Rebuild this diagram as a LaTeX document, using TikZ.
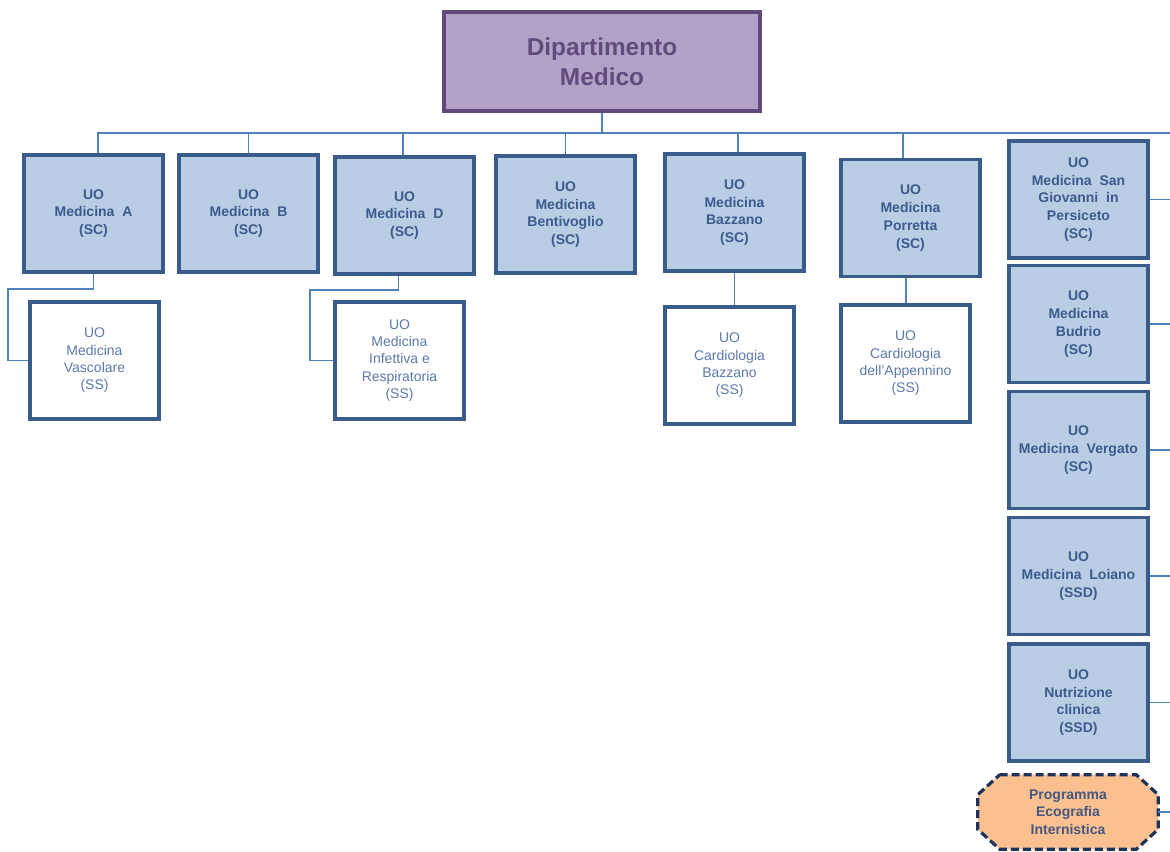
\documentclass[tikz,border=0pt]{standalone}
\usepackage{fontspec}
\setmainfont{Liberation Sans}
\usetikzlibrary{positioning, calc, backgrounds}
\definecolor{boxblue}{RGB}{185, 205, 229}
\definecolor{edgeblue}{RGB}{58, 92, 138}
\definecolor{textblue}{RGB}{60, 90, 140}
\definecolor{softblue}{RGB}{92, 122, 170}
\definecolor{wireblue}{RGB}{79, 129, 189}
\definecolor{deptfill}{RGB}{179, 162, 199}
\definecolor{deptedge}{RGB}{96, 74, 123}
\definecolor{depttext}{RGB}{95, 75, 125}
\definecolor{progfill}{RGB}{250, 192, 144}
\definecolor{progedge}{RGB}{31, 50, 90}
\definecolor{progtext}{RGB}{70, 88, 128}

\tikzset{
  dept/.style={draw=deptedge, fill=deptfill, line width=2.5pt, minimum width=237pt, minimum height=74.25pt,
    align=center, text=depttext, font=\bfseries\fontsize{18.3}{22.5}\selectfont},
  unitbox/.style={draw=edgeblue, fill=boxblue, line width=2.6pt, minimum width=104.25pt, minimum height=87.75pt,
    align=center, text=textblue, font=\bfseries\fontsize{10.5}{13.3}\selectfont},
  subbox/.style={draw=edgeblue, fill=white, line width=2.6pt, minimum width=96.75pt, minimum height=87.75pt,
    align=center, text=softblue, font=\fontsize{10.5}{13}\selectfont},
  progbox/.style={minimum width=135pt, minimum height=55.5pt, align=center, text=progtext,
    font=\bfseries\fontsize{10.5}{13.3}\selectfont},
  wire/.style={draw=wireblue, line width=1.4pt}
}

\begin{document}
\begin{tikzpicture}[x=0.75pt, y=-0.75pt]
  \useasboundingbox (0,0) rectangle (1170,852);

  \node[dept] (dept) at (602,61.5) {Dipartimento\\Medico};

  % first row of units
  \node[unitbox] (ua)    at (93.5,213.5) {UO\\Medicina\ \ A\\(SC)};
  \node[unitbox] (ub)    at (248.5,213.5) {UO\\Medicina\ \ B\\(SC)};
  \node[unitbox] (ud)    at (404.5,215.5) {UO\\Medicina\ \ D\\(SC)};
  \node[unitbox] (ubent) at (565.5,214.5) {UO\\Medicina\\Bentivoglio\\(SC)};
  \node[unitbox] (ubaz)  at (734.5,212.5) {UO\\Medicina\\Bazzano\\(SC)};
  \node[unitbox] (upor)  at (910.5,218) {UO\\Medicina\\Porretta\\(SC)};

  % right column
  \node[unitbox] (usgp) at (1078.5,199.5) {UO\\Medicina\ \ San\\Giovanni\ \ in\\Persiceto\\(SC)};
  \node[unitbox] (ubud) at (1078.5,324) {UO\\Medicina\\Budrio\\(SC)};
  \node[unitbox] (uver) at (1078.5,450) {UO\\Medicina\ \ Vergato\\(SC)};
  \node[unitbox] (uloi) at (1078.5,576) {UO\\Medicina\ \ Loiano\\(SSD)};
  \node[unitbox] (unut) at (1078.5,702.5) {UO\\Nutrizione\\clinica\\(SSD)};
  \node[progbox] (prog) at (1068,812) {Programma\\Ecografia\\Internistica};
  \begin{scope}[on background layer]
    \draw[draw=progedge, fill=progfill, line width=2.4pt, dash pattern=on 6pt off 3pt]
      ($(prog.north west)+(22,0)$) -- ($(prog.north east)+(-22,0)$) -- ($(prog.north east)+(0,20)$)
      -- ($(prog.south east)+(0,-20)$) -- ($(prog.south east)+(-22,0)$) -- ($(prog.south west)+(22,0)$)
      -- ($(prog.south west)+(0,-20)$) -- ($(prog.north west)+(0,20)$) -- cycle;
  \end{scope}

  % simple structures
  \node[subbox] (svasc) at (94.5,360.5) {UO\\Medicina\\Vascolare\\(SS)};
  \node[subbox] (sinf)  at (399.5,360.5) {UO\\Medicina\\Infettiva e\\Respiratoria\\(SS)};
  \node[subbox] (scbaz) at (729.5,365.5) {UO\\Cardiologia\\Bazzano\\(SS)};
  \node[subbox] (scapp) at (905.5,363.5) {UO\\Cardiologia\\dell'Appennino\\(SS)};

  % connectors
  \coordinate (bus) at (602,133);
  \coordinate (rim) at (1170,133);
  \begin{scope}[on background layer]
    \draw[wire] (dept.south) -- (bus);
    \draw[wire] ($(ua.north)+(4.5,0)$) |- (rim);
    \foreach \u/\dx in {ub/0, ud/-1.5, ubent/0, ubaz/3.5, upor/-7.5}
      \draw[wire] ($(\u.north)+(\dx,0)$) -- ($(\u.north |- bus)+(\dx,0)$);
    \foreach \u in {usgp, ubud, uver, uloi, unut, prog}
      \draw[wire] (\u.east) -- (\u.east -| rim);
    \draw[wire] (ua.south) -- ++(0,15) -| ($(svasc.west)+(-20,0)$) -- (svasc.west);
    \draw[wire] ($(ud.south)+(-6,0)$) -- ++(0,14) -| ($(sinf.west)+(-23,0)$) -- (sinf.west);
    \draw[wire] (ubaz.south) -- (ubaz.south |- scbaz.north);
    \draw[wire] ($(upor.south)+(-4.5,0)$) -- ($(upor.south |- scapp.north)+(-4.5,0)$);
  \end{scope}
\end{tikzpicture}
\end{document}
